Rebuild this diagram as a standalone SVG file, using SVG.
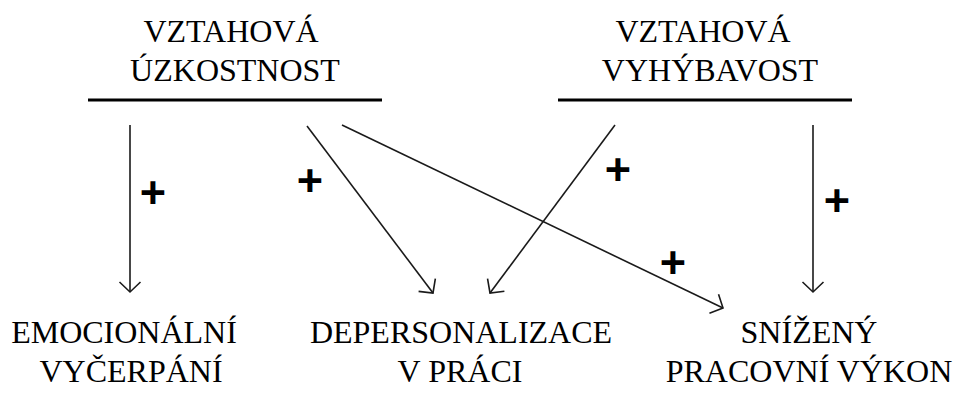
<svg xmlns="http://www.w3.org/2000/svg" width="961" height="396" viewBox="0 0 961 396">
<style>
text.t{font-family:'Liberation Serif','Times New Roman',serif;font-size:32px;fill:#000;text-anchor:middle}
text.p{font-family:'Liberation Sans',Arial,sans-serif;font-weight:bold;font-size:45px;fill:#000;text-anchor:middle}
.bar{stroke:#000;stroke-width:3}
.c{stroke:#1a1a1a;stroke-width:1.6;fill:none}
</style>
<defs>
<marker id="ah" markerUnits="userSpaceOnUse" viewBox="-12 -12 14 24" refX="0" refY="0" markerWidth="14" markerHeight="24" orient="auto">
<path d="M-10,-10.5 L0,0 L-10,10.5" fill="none" stroke="#1a1a1a" stroke-width="1.6"/>
</marker>
</defs>
<rect width="961" height="396" fill="#fff"/>
<g id="anxiety">
<text class="t" x="231" y="42">VZTAHOVÁ</text>
<text class="t" x="235" y="81">ÚZKOSTNOST</text>
<line class="bar" x1="88" y1="100" x2="382" y2="100"/>
</g>
<g id="avoidance">
<text class="t" x="703" y="42">VZTAHOVÁ</text>
<text class="t" x="710" y="81">VYHÝBAVOST</text>
<line class="bar" x1="558" y1="100" x2="852" y2="100"/>
</g>
<g id="exhaustion">
<text class="t" x="124" y="343">EMOCIONÁLNÍ</text>
<text class="t" x="131" y="382">VYČERPÁNÍ</text>
</g>
<g id="depersonalization">
<text class="t" x="461" y="343">DEPERSONALIZACE</text>
<text class="t" x="460" y="382">V PRÁCI</text>
</g>
<g id="performance">
<text class="t" x="809" y="343">SNÍŽENÝ</text>
<text class="t" x="809" y="382">PRACOVNÍ VÝKON</text>
</g>
<g id="connectors">
<line class="c" x1="130" y1="125" x2="130" y2="292" marker-end="url(#ah)"/>
<line class="c" x1="307" y1="126" x2="433" y2="293" marker-end="url(#ah)"/>
<line class="c" x1="342" y1="125" x2="723" y2="308" marker-end="url(#ah)"/>
<line class="c" x1="615" y1="125" x2="490" y2="293" marker-end="url(#ah)"/>
<line class="c" x1="813" y1="125" x2="813" y2="292" marker-end="url(#ah)"/>
<text class="p" x="153" y="208">+</text>
<text class="p" x="310" y="196">+</text>
<text class="p" x="618" y="185">+</text>
<text class="p" x="837" y="216">+</text>
<text class="p" x="673" y="278">+</text>
</g>
</svg>
